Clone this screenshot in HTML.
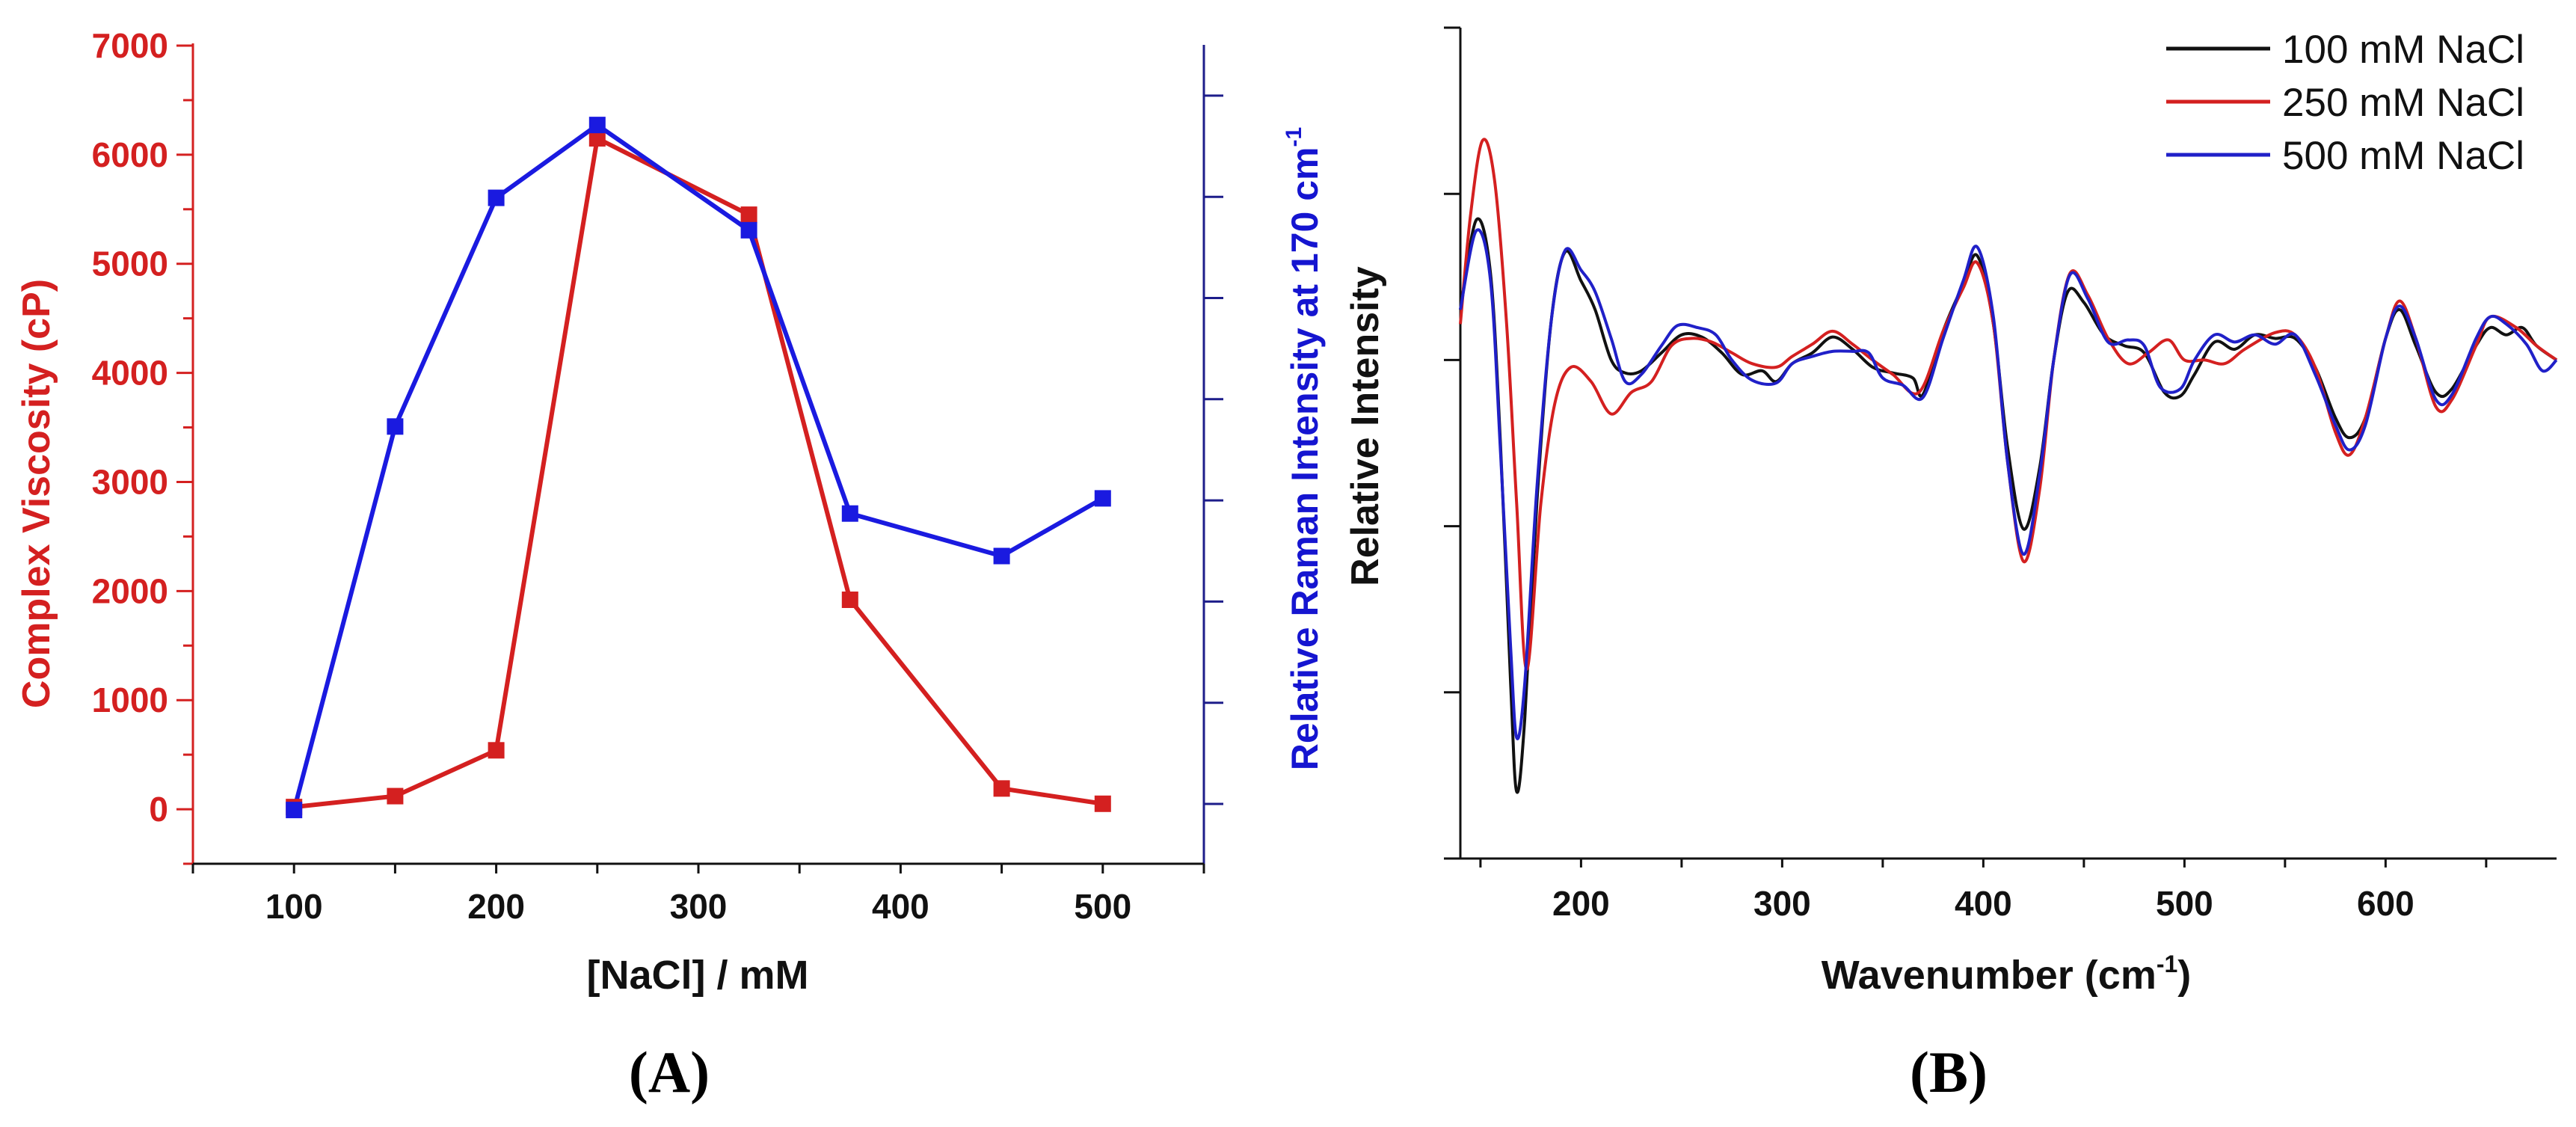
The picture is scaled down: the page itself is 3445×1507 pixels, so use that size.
<!DOCTYPE html>
<html><head><meta charset="utf-8"><style>
html,body{margin:0;padding:0;background:#fff}
svg{display:block;font-family:"Liberation Sans",Arial,sans-serif}
</style></head><body>
<svg id="svg" width="3445" height="1507" viewBox="0 0 3445 1507"></svg>
<script>
// ---- Panel A data ----
const naclConc = [100,150,200,250,325,375,450,500];
const viscosity = [20,120,540,6150,5450,1920,190,50];
const ramanRel = [-0.06,3.73,5.99,6.71,5.67,2.87,2.45,3.02];
const viscTicks = [0,1000,2000,3000,4000,5000,6000,7000];
const concTicks = [100,200,300,400,500];
// ---- Panel B data ----
const wnTicks = [200,300,400,500,600];
const wn100 = [140,148,155,160,165,168,172,178,185,192,200,207,215,222,230,240,250,260,270,280,290,297,305,315,325,335,345,355,365,370,380,390,397,405,412,420,428,435,442,450,460,470,480,490,498,505,515,525,535,545,555,565,575,582,590,600,607,615,625,633,645,652,660,668,675,685];
const int100 = [7,19.5,12,-12,-45,-60,-50,-20,5,15,11,7,0,-1.8,-1.5,1,3.5,3.2,1,-2,-1.5,-3,-0.5,1,3.2,1.5,-1,-1.8,-2.5,-4.8,4,10.5,14.5,5,-12,-23.5,-15,0,9.5,8,3.5,2,1,-4.5,-5,-2,2.5,1.5,3.5,3,3,-1,-8,-10.8,-8,3,7,2,-4.5,-4,2,4.5,3.5,4.5,2,0];
const wn250 = [140,145,151,157,163,168,173,180,187,195,205,215,225,235,245,255,265,275,285,297,305,315,325,335,345,355,368,380,390,397,405,412,420,428,435,443,452,462,472,482,492,500,510,520,530,545,555,565,575,582,590,600,607,615,625,633,645,652,665,675,685];
const int250 = [5,20,30.5,25,5,-20,-43,-20,-6,-1,-3,-7.5,-4.5,-3,2,3,2.5,1,-0.5,-1,0.5,2.2,4,2.2,0,-2,-4.5,4,10,13.5,5,-14,-28,-18,0,12,9,3,-0.5,1,2.8,0,0,-0.5,1.5,3.8,3.5,-1,-10,-13.2,-8,3,8.2,3,-6.5,-5.5,2,6,4.5,2,0];
const wn500 = [140,148,155,160,165,168,172,178,185,192,200,207,215,222,230,240,248,258,267,275,285,297,305,315,325,335,343,350,360,370,380,390,397,405,412,420,428,435,443,452,462,472,480,488,498,505,515,525,535,545,555,565,575,582,590,600,607,615,625,633,645,652,660,670,678,685];
const int500 = [7,18,11,-13,-40,-52.5,-45,-18,5,15.2,12.5,9.5,3,-3,-2,2,4.8,4.5,3.5,0,-2.8,-3.2,-0.5,0.5,1.2,1.2,1,-2.5,-3.5,-5.2,3,11,15.7,6,-14,-27,-16,0,11.8,8.5,2.5,2.8,2,-3.8,-4,0,3.5,2.5,3.5,2.2,3.5,-2,-9,-12.5,-9,3,7.5,3,-5.5,-4.8,3,6,5,2.2,-1.5,0];

const NS='http://www.w3.org/2000/svg';
const svg=document.getElementById('svg');
function mk(tag,attrs,parent){const e=document.createElementNS(NS,tag);for(const k in attrs)e.setAttribute(k,attrs[k]);(parent||svg).appendChild(e);return e;}
function txt(s,attrs,parent){const e=mk('text',attrs,parent);e.textContent=s;return e;}

// ===== Panel A =====
const xA=v=>258+(v-50)/500*(1610-258);
const yL=v=>1155-(v+500)/7500*(1155-61);
const yR=v=>1075-v*135.3;
const gA=mk('g',{});


const RED='#d42020', BLUE='#1a1ae0', NAVY='#1d1d8a';
let e;
e=mk('line',{x1:258,y1:58,x2:258,y2:1155,stroke:RED,'stroke-width':3},gA);

for(let v=-500;v<=7000;v+=500){const major=v%1000===0;mk('line',{x1:major?236:245,x2:258,y1:yL(v),y2:yL(v),stroke:RED,'stroke-width':3},gA);}
viscTicks.forEach(v=>{e=txt(v,{x:225,y:yL(v)+16,'text-anchor':'end','font-size':46,'font-weight':'bold',fill:RED},gA);});
e=mk('line',{x1:1610,y1:60,x2:1610,y2:1155,stroke:NAVY,'stroke-width':3},gA);

for(let v=0;v<=7;v++)mk('line',{x1:1610,x2:1636,y1:yR(v),y2:yR(v),stroke:NAVY,'stroke-width':3},gA);
e=mk('line',{x1:258,y1:1155,x2:1610,y2:1155,stroke:'#111','stroke-width':3},gA);

for(let v=50;v<=550;v+=50)mk('line',{x1:xA(v),x2:xA(v),y1:1155,y2:1168,stroke:'#111','stroke-width':3},gA);
concTicks.forEach(v=>{e=txt(v,{x:xA(v),y:1228,'text-anchor':'middle','font-size':46,'font-weight':'bold',fill:'#111'},gA);});
e=txt('[NaCl] / mM',{x:933,y:1322,'text-anchor':'middle','font-size':54,'font-weight':'bold',fill:'#111'},gA);

e=txt('Complex Viscosity (cP)',{transform:'translate(66,660) rotate(-90)','text-anchor':'middle','font-size':52,'font-weight':'bold',fill:RED},gA);

e=mk('text',{transform:'translate(1762,600) rotate(-90)','text-anchor':'middle','font-size':50,'font-weight':'bold',fill:'#1515d0'},gA);
e.innerHTML='Relative Raman Intensity at 170 cm<tspan dy="-22" font-size="30">-1</tspan>';

// series
e=mk('polyline',{points:naclConc.map((c,i)=>xA(c)+','+yL(viscosity[i])).join(' '),fill:'none',stroke:RED,'stroke-width':6},gA);

e=mk('polyline',{points:naclConc.map((c,i)=>xA(c)+','+yR(ramanRel[i])).join(' '),fill:'none',stroke:BLUE,'stroke-width':6},gA);

naclConc.forEach((c,i)=>{e=mk('rect',{x:xA(c)-11,y:yL(viscosity[i])-11,width:22,height:22,fill:RED},gA);});
naclConc.forEach((c,i)=>{e=mk('rect',{x:xA(c)-11,y:yR(ramanRel[i])-11,width:22,height:22,fill:BLUE},gA);});
e=txt('(A)',{x:895,y:1460,'text-anchor':'middle','font-size':78,'font-weight':'bold','font-family':'Liberation Serif,serif',fill:'#000'},gA);


// ===== Panel B =====
const xB=v=>1953+(v-140)/545*(3419-1953);
const yB=v=>37+(46.2-v)/115.5*(1148-37);
const gB=mk('g',{});


e=mk('line',{x1:1953,y1:37,x2:1953,y2:1148,stroke:'#111','stroke-width':3},gB);

for(let i=0;i<6;i++){const y=37+i*(1148-37)/5;mk('line',{x1:1931,x2:1953,y1:y,y2:y,stroke:'#111','stroke-width':3},gB);}
e=mk('line',{x1:1953,y1:1148,x2:3419,y2:1148,stroke:'#111','stroke-width':3},gB);

for(let v=150;v<=650;v+=50)mk('line',{x1:xB(v),x2:xB(v),y1:1148,y2:1160,stroke:'#111','stroke-width':3},gB);
wnTicks.forEach(v=>{e=txt(v,{x:xB(v),y:1224,'text-anchor':'middle','font-size':46,'font-weight':'bold',fill:'#111'},gB);});
e=mk('text',{x:2683,y:1322,'text-anchor':'middle','font-size':54,'font-weight':'bold',fill:'#111'},gB);
e.innerHTML='Wavenumber (cm<tspan dy="-22" font-size="32">-1</tspan><tspan dy="22">)</tspan>';

e=txt('Relative Intensity',{transform:'translate(1843,570) rotate(-90)','text-anchor':'middle','font-size':52,'font-weight':'bold',fill:'#111'},gB);

function smooth(xs,ys){const p=xs.map((x,i)=>[xB(x),yB(ys[i])]);let d='M'+p[0][0]+','+p[0][1];
for(let i=0;i<p.length-1;i++){const p0=p[Math.max(0,i-1)],p1=p[i],p2=p[i+1],p3=p[Math.min(p.length-1,i+2)];
const c1=[p1[0]+(p2[0]-p0[0])/6,p1[1]+(p2[1]-p0[1])/6],c2=[p2[0]-(p3[0]-p1[0])/6,p2[1]-(p3[1]-p1[1])/6];
d+=' C'+c1[0]+','+c1[1]+' '+c2[0]+','+c2[1]+' '+p2[0]+','+p2[1];}return d;}
e=mk('path',{d:smooth(wn100,int100),fill:'none',stroke:'#111','stroke-width':4},gB);

e=mk('path',{d:smooth(wn250,int250),fill:'none',stroke:'#d42020','stroke-width':4},gB);

e=mk('path',{d:smooth(wn500,int500),fill:'none',stroke:'#2020c8','stroke-width':4},gB);

// legend
const legNames=['100 mM NaCl','250 mM NaCl','500 mM NaCl'];
const legCols=['#111','#d42020','#2020c8'];
legNames.forEach((n,i)=>{const g=mk('g',{},gB);

const y=65+i*71;mk('line',{x1:2897,x2:3036,y1:y,y2:y,stroke:legCols[i],'stroke-width':5},g);
txt(n,{x:3052,y:y+19,'font-size':53,fill:'#111'},g);});
e=txt('(B)',{x:2606,y:1460,'text-anchor':'middle','font-size':78,'font-weight':'bold','font-family':'Liberation Serif,serif',fill:'#000'},gB);

</script>
</body></html>
